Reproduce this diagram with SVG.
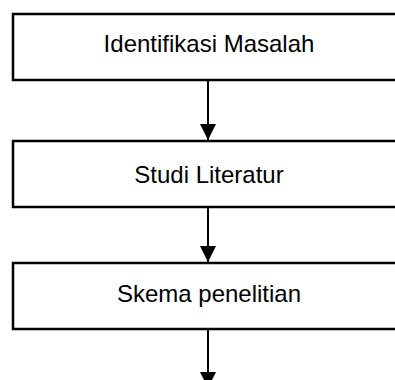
<svg xmlns="http://www.w3.org/2000/svg" width="395" height="380" viewBox="0 0 395 380">
<style>
.box{fill:#fff;stroke:#000;stroke-width:2.5}
.lbl{font-family:"Liberation Sans",Arial,sans-serif;font-size:24px;fill:#000;text-anchor:middle}
.ln{stroke:#000;stroke-width:2;fill:none}
</style>
<defs>
<marker id="ah" markerUnits="userSpaceOnUse" markerWidth="17" markerHeight="16" refX="16" refY="8" orient="auto" viewBox="0 0 17 16">
<path d="M0,0 L16,8 L0,16 Z" fill="#000"/>
</marker>
</defs>
<rect width="395" height="380" fill="#fff"/>
<g id="connectors">
<line class="ln" x1="208" y1="80" x2="208" y2="140" marker-end="url(#ah)"/>
<line class="ln" x1="208" y1="207" x2="208" y2="262" marker-end="url(#ah)"/>
<line class="ln" x1="208" y1="329" x2="208" y2="388" marker-end="url(#ah)"/>
</g>
<g id="n1">
<rect class="box" x="13" y="14" width="400" height="66"/>
<text class="lbl" x="209" y="52">Identifikasi Masalah</text>
</g>
<g id="n2">
<rect class="box" x="13" y="141" width="400" height="66"/>
<text class="lbl" x="209" y="183">Studi Literatur</text>
</g>
<g id="n3">
<rect class="box" x="13" y="263" width="400" height="66"/>
<text class="lbl" x="209" y="302">Skema penelitian</text>
</g>
</svg>
